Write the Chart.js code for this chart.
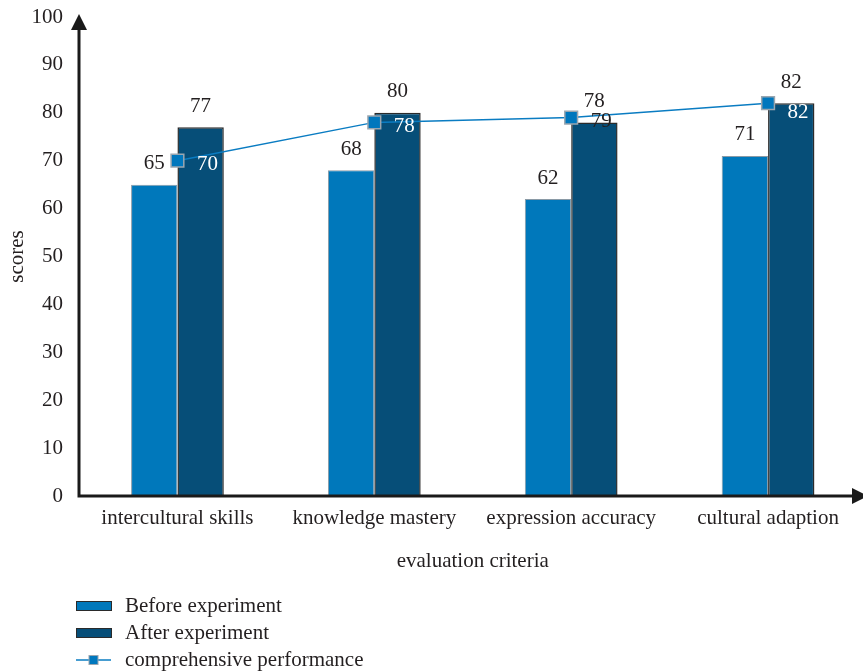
<!DOCTYPE html>
<html>
<head>
<meta charset="utf-8">
<title>Scores before and after</title>
<script src="https://cdn.jsdelivr.net/npm/chart.js@4.4.1/dist/chart.umd.min.js"></script>
<style>
  html, body { margin: 0; padding: 0; background: #fff; overflow: hidden; }
  #wrap { position: relative; width: 877px; height: 671px; }
</style>
</head>
<body>
<div id="wrap"><canvas id="scoreChart" width="877" height="671"></canvas></div>
<script>
const criteria = ["intercultural skills", "knowledge mastery", "expression accuracy", "cultural adaption"]
const beforeScores = [65, 68, 62, 71]
const afterScores = [77, 80, 78, 82]
const overallScores = [70, 78, 79, 82]
const yTickValues = [0, 10, 20, 30, 40, 50, 60, 70, 80, 90, 100]

const textColor = "#231f20"
const serif = "'Liberation Serif', 'DejaVu Serif', serif"
const fontSize = 21

// black axes with arrow heads
const arrowAxes = {
    id: "arrowAxes",
    afterDraw(chart) {
        const { ctx, chartArea } = chart
        const x0 = chartArea.left
        const y0 = chartArea.bottom
        ctx.save()
        ctx.strokeStyle = "#1a1a1a"
        ctx.fillStyle = "#1a1a1a"
        ctx.lineWidth = 3
        ctx.beginPath()
        ctx.moveTo(x0, y0 + 1.5)
        ctx.lineTo(x0, 28)
        ctx.moveTo(x0 - 1.5, y0)
        ctx.lineTo(854, y0)
        ctx.stroke()

        ctx.beginPath()
        ctx.moveTo(x0, 14)
        ctx.lineTo(x0 - 8, 30)
        ctx.lineTo(x0 + 8, 30)
        ctx.closePath()
        ctx.fill()

        ctx.beginPath()
        ctx.moveTo(868, y0)
        ctx.lineTo(852, y0 - 8)
        ctx.lineTo(852, y0 + 8)
        ctx.closePath()
        ctx.fill()
        ctx.restore()
    }
}

// value labels over bars and beside the line points
const valueLabels = {
    id: "valueLabels",
    afterDatasetsDraw(chart) {
        const { ctx } = chart
        const afterMeta = chart.getDatasetMeta(1)
        ctx.save()
        ctx.font = fontSize + "px " + serif
        ctx.textAlign = "center"
        ctx.textBaseline = "middle"
        chart.data.datasets.forEach((ds, i) => {
            const meta = chart.getDatasetMeta(i)
            meta.data.forEach((el, j) => {
                const v = ds.data[j]
                if (ds.type === "line") {
                    const lx = el.x + 30
                    let ly = el.y + 4
                    const bar = afterMeta.data[j]
                    const inside = ly > bar.y + 1
                    // keep white labels clear of the bar's top edge
                    if (inside) ly = Math.max(ly, bar.y + 9)
                    ctx.fillStyle = inside ? "#ffffff" : textColor
                    ctx.fillText(v, lx, ly)
                } else {
                    ctx.fillStyle = textColor
                    ctx.fillText(v, el.x, el.y - 21)
                }
            })
        })
        ctx.restore()
    }
}

// legend stacked under the chart, bottom left
const stackedLegend = {
    id: "stackedLegend",
    afterDraw(chart) {
        const { ctx } = chart
        ctx.save()
        ctx.font = fontSize + "px " + serif
        ctx.textBaseline = "middle"
        ctx.textAlign = "left"
        chart.data.datasets.forEach((ds, i) => {
            const y = 606 + i * 27
            if (ds.type === "line") {
                ctx.strokeStyle = ds.borderColor
                ctx.lineWidth = 1.5
                ctx.beginPath()
                ctx.moveTo(76, y)
                ctx.lineTo(111, y)
                ctx.stroke()
                ctx.fillStyle = ds.pointBackgroundColor
                ctx.strokeStyle = ds.pointBorderColor
                ctx.lineWidth = 1
                ctx.fillRect(89, y - 4.5, 9, 9)
                ctx.strokeRect(89, y - 4.5, 9, 9)
            } else {
                ctx.fillStyle = ds.backgroundColor
                ctx.fillRect(76, y - 4, 36, 8)
                ctx.strokeStyle = "#2a2a2a"
                ctx.lineWidth = 1
                ctx.strokeRect(76.5, y - 4.5, 35, 9)
            }
            ctx.fillStyle = textColor
            ctx.fillText(ds.label, 125, y)
        })
        ctx.restore()
    }
}

const ctx = document.getElementById("scoreChart")

new Chart(ctx, {
    data: {
        labels: criteria,
        datasets: [
            {
                type: "bar",
                label: "Before experiment",
                data: beforeScores,
                backgroundColor: "#0078bb",
                borderColor: "#8a9aa6",
                borderWidth: 1,
                order: 1
            },
            {
                type: "bar",
                label: "After experiment",
                data: afterScores,
                backgroundColor: "#064e78",
                borderColor: "#2b2b2b",
                borderWidth: 1.5,
                order: 2
            },
            {
                type: "line",
                label: "comprehensive performance",
                data: overallScores,
                borderColor: "#0a7cc2",
                borderWidth: 1.5,
                pointStyle: "rect",
                pointRadius: 9,
                pointBackgroundColor: "#0077bd",
                pointBorderColor: "#9aa6b0",
                pointBorderWidth: 1.5,
                tension: 0,
                order: 0
            }
        ]
    },
    options: {
        responsive: false,
        animation: false,
        layout: { padding: { top: 17, right: 0, bottom: 0, left: 0 } },
        datasets: {
            bar: { barPercentage: 1, categoryPercentage: 0.471 }
        },
        plugins: {
            legend: { display: false },
            tooltip: { enabled: false }
        },
        scales: {
            x: {
                grid: { display: false, drawTicks: false },
                border: { display: false },
                ticks: {
                    color: textColor,
                    padding: 10,
                    font: { family: serif, size: fontSize }
                },
                title: {
                    display: true,
                    text: "evaluation criteria",
                    color: textColor,
                    font: { family: serif, size: fontSize },
                    padding: { top: 0, bottom: 97 }
                },
                afterFit(scale) {
                    scale.height = 175
                    scale.paddingLeft = 0
                    scale.paddingRight = 0
                }
            },
            y: {
                min: 0,
                max: 100,
                grid: { display: false, drawTicks: false },
                border: { display: false },
                afterBuildTicks(scale) {
                    scale.ticks = yTickValues.map(v => ({ value: v }))
                },
                ticks: {
                    color: textColor,
                    padding: 16,
                    font: { family: serif, size: fontSize }
                },
                title: {
                    display: true,
                    text: "scores",
                    color: textColor,
                    font: { family: serif, size: fontSize },
                    padding: { top: 5, bottom: 0 }
                },
                afterFit(scale) {
                    scale.width = 79
                    scale.paddingTop = 0
                    scale.paddingBottom = 0
                }
            }
        }
    },
    plugins: [arrowAxes, valueLabels, stackedLegend]
})
</script>
</body>
</html>
